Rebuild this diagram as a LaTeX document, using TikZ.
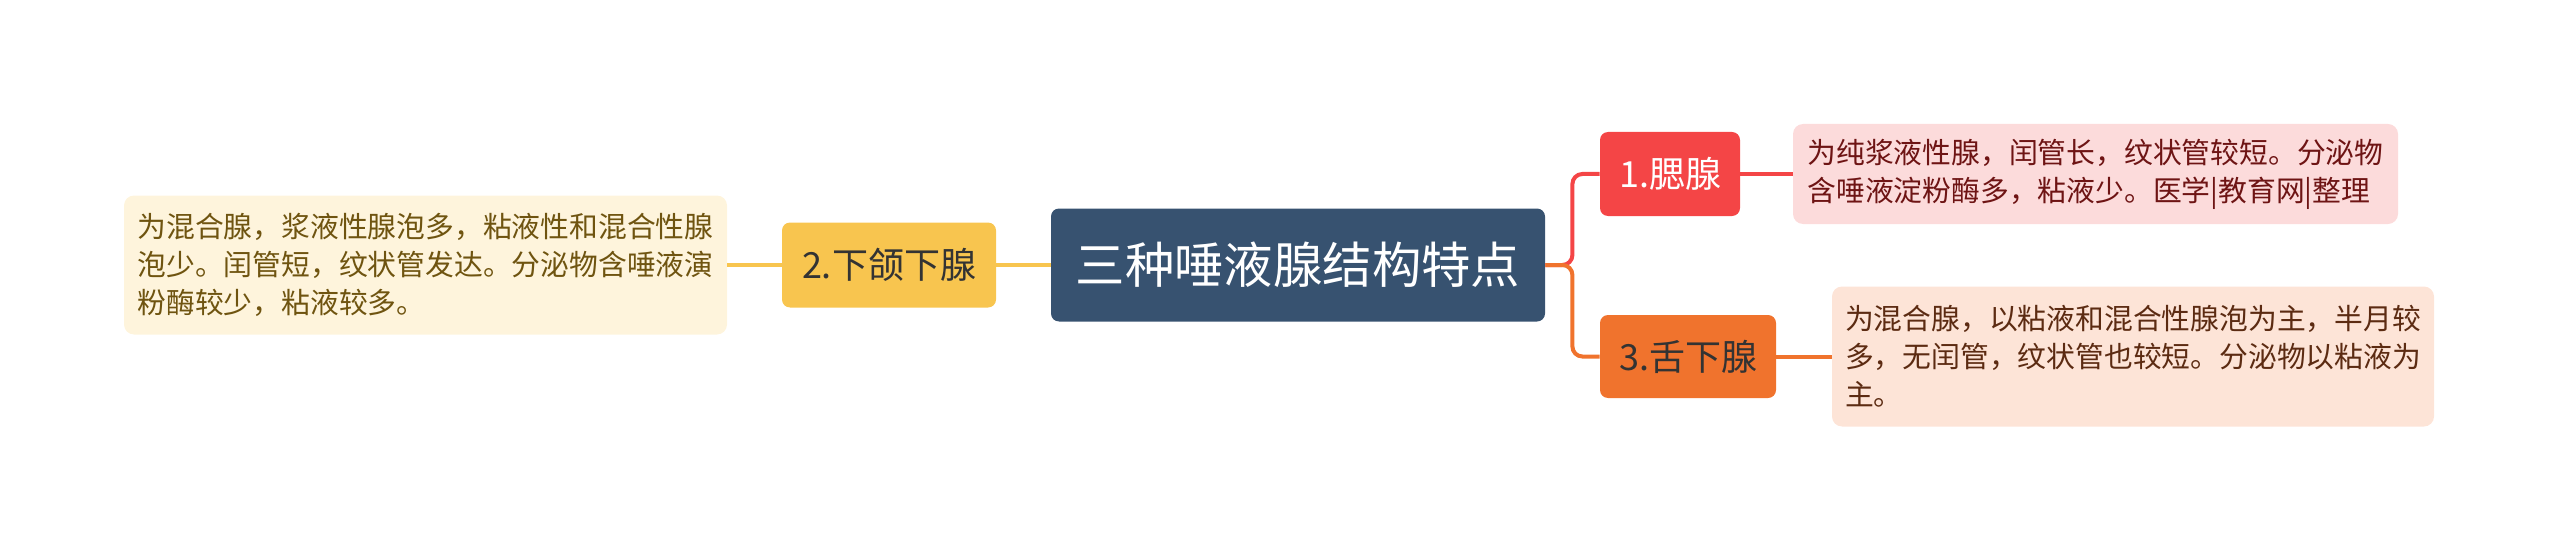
\documentclass[tikz,border=0pt]{standalone}
\usepackage{fontspec}
\setmainfont{Noto Sans CJK SC}
\definecolor{cmain}{HTML}{375270}
\definecolor{cyel}{HTML}{F8C54F}
\definecolor{cred}{HTML}{F44546}
\definecolor{corg}{HTML}{F0732D}
\definecolor{fyel}{HTML}{FEF4DC}
\definecolor{tyel}{HTML}{6F5410}
\definecolor{fred}{HTML}{FCDBDB}
\definecolor{tred}{HTML}{6E1414}
\definecolor{forg}{HTML}{FDE4D7}
\definecolor{torg}{HTML}{5C2B12}
\definecolor{tdark}{HTML}{333333}
\tikzset{
  topic/.style={rounded corners=4pt, inner sep=0pt, font=\fontsize{18}{22}\selectfont},
  detail/.style={rounded corners=5pt, inner sep=0pt, align=left, font=\fontsize{14.4}{19}\selectfont},
  conn/.style={line width=2pt},
}
\begin{document}
\begin{tikzpicture}[x=0.5pt,y=-0.5pt]
\useasboundingbox (0,0) rectangle (2560,551);
\node[topic, fill=cmain, text=white, minimum width=247pt, minimum height=56.5pt, font=\fontsize{24.7}{28}\selectfont] (c) at (1298,265) {三种唾液腺结构特点};
\node[topic, fill=cyel, text=tdark, minimum width=107pt, minimum height=42.5pt] (n2) at (889,265) {2.下颌下腺};
\node[topic, fill=cred, text=white, minimum width=70pt, minimum height=42pt] (n1) at (1670,174) {1.腮腺};
\node[topic, fill=corg, text=tdark, minimum width=88pt, minimum height=41.5pt] (n3) at (1688,356.5) {3.舌下腺};
\node[detail, fill=fyel, text=tyel, minimum width=301.5pt, minimum height=69.5pt] (d2) at (425.5,265) {为混合腺，浆液性腺泡多，粘液性和混合性腺\\泡少。闰管短，纹状管发达。分泌物含唾液演\\粉酶较少，粘液较多。};
\node[detail, fill=fred, text=tred, minimum width=302.5pt, minimum height=50pt] (d1) at (2095.5,174) {为纯浆液性腺，闰管长，纹状管较短。分泌物\\含唾液淀粉酶多，粘液少。医学|教育网|整理};
\node[detail, fill=forg, text=torg, minimum width=301pt, minimum height=70pt] (d3) at (2133,356.5) {为混合腺，以粘液和混合性腺泡为主，半月较\\多，无闰管，纹状管也较短。分泌物以粘液为\\主。};
\draw[conn, cyel] (c.west) -- (n2.east);
\draw[conn, cyel] (n2.west) -- (d2.east);
\draw[conn, cred, rounded corners=5pt] (c.east) -- ++(27,0) |- (n1.west);
\draw[conn, corg, rounded corners=5pt] (c.east) -- ++(27,0) |- (n3.west);
\draw[conn, cred] (n1.east) -- (d1.west);
\draw[conn, corg] (n3.east) -- (d3.west);
\end{tikzpicture}
\end{document}
